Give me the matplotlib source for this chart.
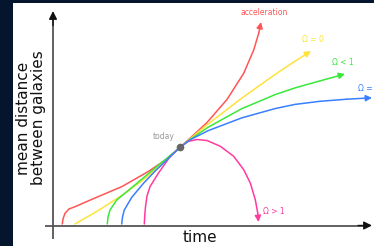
import matplotlib
matplotlib.use("Agg")
import matplotlib.pyplot as plt
from matplotlib.patches import Rectangle

# ---- data (time, mean distance), arbitrary units ----
red_t = [0.93, 1.0, 1.2, 1.6, 2.2, 4.2, 6.87, 9.5, 11.5, 12.7, 14.0, 15.4, 17.4, 19.07, 20.07, 20.57, 20.8]
red_d = [0.15, 0.65, 1.22, 1.65, 1.88, 2.75, 3.88, 5.38, 6.72, 7.82, 9.0, 10.3, 12.6, 15.22, 17.55, 19.22, 20.35]

yellow_t = [2.2, 4.53, 6.87, 8.87, 10.53, 12.7, 13.53, 15.53, 18.87, 22.2, 24.03, 25.8]
yellow_d = [0.15, 1.5, 3.0, 4.45, 5.8, 7.82, 8.52, 10.16, 12.73, 15.1, 16.32, 17.45]

green_t = [5.43, 5.5, 5.7, 6.37, 7.53, 9.2, 10.87, 12.7, 13.53, 15.53, 18.87, 22.2, 24.2, 26.73, 29.2]
green_d = [0.15, 0.85, 1.55, 2.55, 3.5, 4.9, 6.3, 7.82, 8.48, 9.84, 11.68, 13.08, 13.76, 14.47, 15.15]

blue_t = [6.87, 6.95, 7.13, 7.87, 9.03, 10.2, 11.7, 12.7, 13.7, 15.53, 18.87, 22.2, 24.2, 26.7, 29.4, 31.9]
blue_d = [0.15, 0.85, 1.55, 2.81, 4.2, 5.43, 6.86, 7.82, 8.57, 9.49, 10.76, 11.69, 12.11, 12.42, 12.63, 12.77]

pink_t = [9.13, 9.18, 9.25, 9.4, 9.7, 10.53, 11.7, 12.7, 13.5, 14.4, 15.4, 16.73, 18.07, 19.07, 19.73, 20.23, 20.47, 20.55]
pink_d = [0.15, 1.05, 1.88, 2.95, 3.88, 5.22, 6.88, 7.82, 8.4, 8.6, 8.5, 7.92, 6.92, 5.58, 4.25, 2.58, 1.25, 0.35]

today_t, today_d = 12.7, 7.82

labels = ["acceleration", "Ω = 0", "Ω < 1", "Ω = 1", "Ω > 1"]
colors = ["#ff5555", "#ffe23a", "#3ae83a", "#3a7fff", "#ff3aa0"]

# ---- figure ----
navy = "#04152d"
fig = plt.figure(figsize=(3.74, 2.46), dpi=100, facecolor=navy)
fig.add_artist(Rectangle((13 / 374, 0), 361 / 374, 243 / 246,
                         transform=fig.transFigure, facecolor="white",
                         edgecolor="none", zorder=0))
ax = fig.add_axes([0, 0, 1, 1])
ax.set_facecolor("none")
ax.set_xlim(-5.3, 32.1)
ax.set_ylim(-2.05, 22.55)
ax.axis("off")

# axes with arrows
axis_col = "#555555"
ax.plot([-0.8, 31.0], [0, 0], color=axis_col, lw=1.3, solid_capstyle="butt", zorder=1)
ax.plot([0, 0], [-1.35, 20.6], color=axis_col, lw=1.3, solid_capstyle="butt", zorder=1)
ax.annotate("", xy=(31.9, 0), xytext=(30.5, 0),
            arrowprops=dict(arrowstyle="-|>", color="#111111", lw=1.0,
                            mutation_scale=12, shrinkA=0, shrinkB=0), zorder=2)
ax.annotate("", xy=(0, 21.45), xytext=(0, 20.0),
            arrowprops=dict(arrowstyle="-|>", color="#111111", lw=1.0,
                            mutation_scale=12, shrinkA=0, shrinkB=0), zorder=2)

series = [(red_t, red_d), (yellow_t, yellow_d), (green_t, green_d),
          (pink_t, pink_d), (blue_t, blue_d)]
cols = [colors[0], colors[1], colors[2], colors[4], colors[3]]
for (t, d), c in zip(series, cols):
    ax.plot(t[:-1], d[:-1], color=c, lw=1.1, solid_capstyle="round",
            solid_joinstyle="round", zorder=3)
    ax.annotate("", xy=(t[-1], d[-1]), xytext=(t[-2], d[-2]),
                arrowprops=dict(arrowstyle="-|>", color=c, lw=1.1,
                                mutation_scale=9, shrinkA=0, shrinkB=0),
                zorder=3)

ax.plot([today_t], [today_d], "o", color="#666666", ms=4.5, zorder=5)
ax.text(12.2, 8.9, "today", color="#999999", fontsize=5.5, ha="right", va="center")

fs = 5.5
ax.text(21.15, 21.3, labels[0], color=colors[0], fontsize=fs, ha="center", va="center")
ax.text(24.85, 18.55, labels[1], color=colors[1], fontsize=fs, ha="left", va="center")
ax.text(27.9, 16.3, labels[2], color=colors[2], fontsize=fs, ha="left", va="center")
ax.text(30.55, 13.7, labels[3], color=colors[3], fontsize=fs, ha="left", va="center")
ax.text(21.0, 1.42, labels[4], color=colors[4], fontsize=fs, ha="left", va="center")

ax.text(14.7, -1.15, "time", color="#111111", fontsize=11, ha="center", va="center")
ax.text(-2.2, 10.75, "mean distance\nbetween galaxies", color="#111111", fontsize=11,
        ha="center", va="center", rotation=90, linespacing=1.05, multialignment="center")

fig.savefig("out.png", dpi=100, facecolor=navy)
